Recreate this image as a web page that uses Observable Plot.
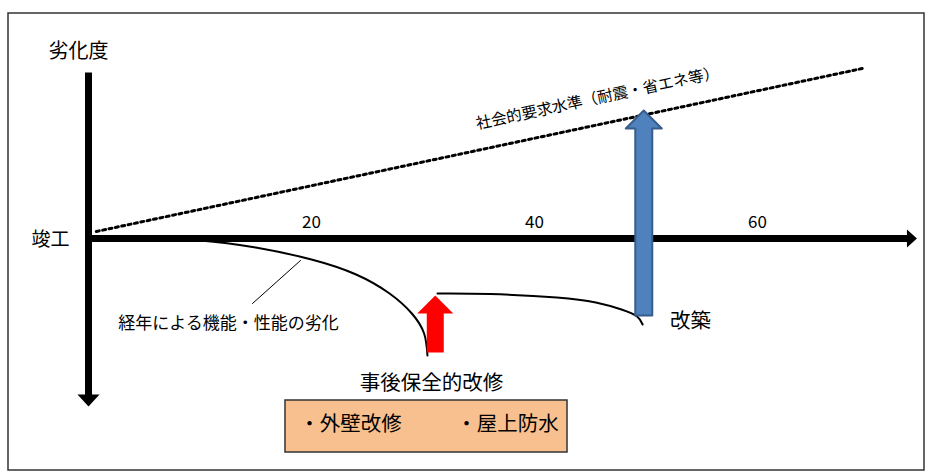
<!DOCTYPE html>
<html>
<head>
<meta charset="utf-8">
<script src="https://cdn.jsdelivr.net/npm/d3@7"></script>
<script src="https://cdn.jsdelivr.net/npm/@observablehq/plot@0.6"></script>
<style>body{margin:0;background:#fff}</style>
</head>
<body>
<div id="chart"></div>
<script>
// 経過年数(x) と 劣化量(y, 下向きが正)
const yearTicks = [20, 40, 60]
const socialLine = [{x: 0.7, y: -7}, {x: 69.4, y: -170}]
const decay1 = [[5, 0], [10, 2], [15, 9], [20, 21], [24, 36], [27, 55], [29, 75], [30.1, 95], [30.4, 117]]
const decay2 = [[31.3, 55], [36, 55.5], [42, 59], [45.5, 64], [47.8, 71], [49.2, 78], [49.7, 86]]
const repairArrow = {x: 31.1, from: 114, to: 57}
const rebuildArrow = {x: 49.8, from: 77, to: -128}
const axisYEnd = 168, axisXEnd = 74.3, axisYTop = -166

const K = 11.15 // px per year
const pxX = p => p / K

// 矢印の多角形 (縦向き)
function vArrow(x, from, to, shaft, head, headLen) {
  const s = pxX(shaft / 2), h = pxX(head / 2), dir = Math.sign(to - from)
  const b = to - dir * headLen
  return [[x - s, from], [x - s, b], [x - h, b], [x, to], [x + h, b], [x + s, b], [x + s, from], [x - s, from]]
    .map(([x, y]) => ({x, y}))
}
function hArrow(y, from, to, shaft, head, headLen) {
  const b = to - pxX(headLen)
  return [[from, y - shaft / 2], [b, y - shaft / 2], [b, y - head / 2], [to, y], [b, y + head / 2], [b, y + shaft / 2], [from, y + shaft / 2], [from, y - shaft / 2]]
    .map(([x, y]) => ({x, y}))
}
const pts = a => a.map(([x, y]) => ({x, y}))
const font = "'Noto Sans CJK JP', sans-serif"

const chart = Plot.plot({
  width: 928, height: 475,
  margin: 0,
  x: {domain: [pxX(-88), pxX(928 - 88)], range: [0, 928], axis: null},
  y: {domain: [-238, 237], range: [0, 475], axis: null},
  style: {fontFamily: font, background: "#fff"},
  marks: [
    Plot.rect([{x1: pxX(8 - 88), x2: pxX(924 - 88), y1: 13 - 238, y2: 470 - 238}], {x1: "x1", x2: "x2", y1: "y1", y2: "y2", fill: "none", stroke: "#333", strokeWidth: 1.5}),
    Plot.line(socialLine, {x: "x", y: "y", stroke: "#000", strokeWidth: 3, strokeDasharray: "3,3.5"}),
    Plot.line(vArrow(0, axisYTop, axisYEnd, 7, 22, 12), {x: "x", y: "y", fill: "#000", stroke: "none"}),
    Plot.line(hArrow(0, 0, axisXEnd, 7, 18, 10), {x: "x", y: "y", fill: "#000", stroke: "none"}),
    Plot.line(pts(decay1), {x: "x", y: "y", stroke: "#000", strokeWidth: 2, curve: "natural"}),
    Plot.line(pts(decay2), {x: "x", y: "y", stroke: "#000", strokeWidth: 2, curve: "natural"}),
    Plot.line([{x: pxX(252 - 88), y: 65}, {x: pxX(300 - 88), y: 22}], {x: "x", y: "y", stroke: "#000", strokeWidth: 1}),
    Plot.line(vArrow(repairArrow.x, repairArrow.from, repairArrow.to, 17, 36, 18), {x: "x", y: "y", fill: "#ff0000", stroke: "none"}),
    Plot.line(vArrow(rebuildArrow.x, rebuildArrow.from, rebuildArrow.to, 17, 36, 18), {x: "x", y: "y", fill: "#4f81bd", stroke: "#385d8a", strokeWidth: 2}),
    Plot.rect([{x1: pxX(285 - 88), x2: pxX(567 - 88), y1: 400 - 238, y2: 452 - 238}], {x1: "x1", x2: "x2", y1: "y1", y2: "y2", fill: "#f9c08f", stroke: "#333", strokeWidth: 1.5}),
    Plot.text(yearTicks, {x: d => d, y: -16, text: d => String(d), fontSize: 17, fill: "#000"}),
    Plot.text(["劣化度"], {x: pxX(78 - 88), y: 51 - 238, text: d => d, fontSize: 20, fill: "#000"}),
    Plot.text(["竣工"], {x: pxX(50 - 88), y: 1, text: d => d, fontSize: 19, fill: "#000"}),
    Plot.text(["社会的要求水準（耐震・省エネ等）"], {x: pxX(597 - 88), y: 98 - 238, text: d => d, fontSize: 15.5, rotate: -12, fill: "#000"}),
    Plot.text(["経年による機能・性能の劣化"], {x: pxX(228 - 88), y: 85, text: d => d, fontSize: 17, fill: "#000"}),
    Plot.text(["事後保全的改修"], {x: pxX(431 - 88), y: 383 - 238, text: d => d, fontSize: 20.5, fill: "#000"}),
    Plot.text(["改築"], {x: pxX(690 - 88), y: 321 - 238, text: d => d, fontSize: 20.5, fill: "#000"}),
    Plot.text(["・外壁改修", "・屋上防水"], {x: (d, i) => pxX([350, 507][i] - 88), y: 424 - 238, text: d => d, fontSize: 20.5, fill: "#000"})
  ]
})
document.getElementById("chart").append(chart)
</script>
</body>
</html>
